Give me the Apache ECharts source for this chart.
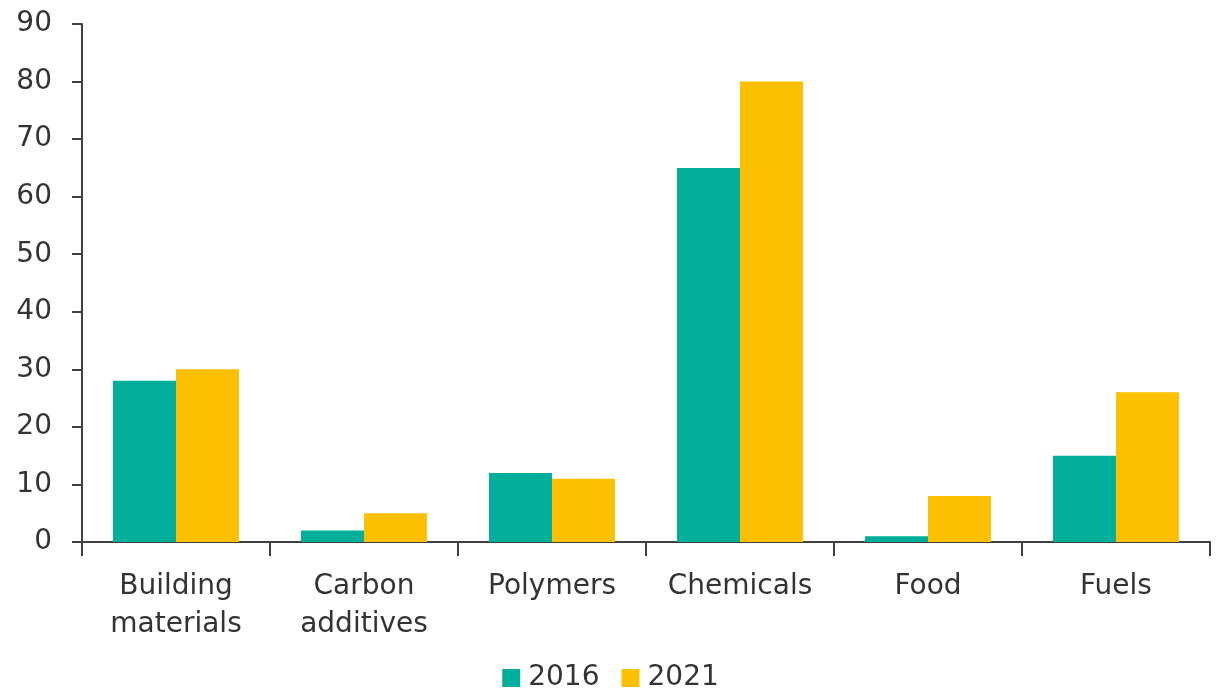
<!DOCTYPE html>
<html>
<head>
<meta charset="utf-8">
<script src="https://cdn.jsdelivr.net/npm/echarts@6/dist/echarts.min.js"></script>
<style>
  html, body { margin: 0; padding: 0; background: #fff; }
  #chart { width: 1221px; height: 698px; }
</style>
</head>
<body>
<div id="chart"></div>
<script>
var categories = ['Building\nmaterials', 'Carbon\nadditives', 'Polymers', 'Chemicals', 'Food', 'Fuels'];
var values2016 = [28, 2, 12, 65, 1, 15];
var values2021 = [30, 5, 11, 80, 8, 26];
var yTicks = [0, 10, 20, 30, 40, 50, 60, 70, 80, 90];

var font = 'DejaVu Sans, Verdana, sans-serif';
var textColor = '#333333';
var axisColor = '#404040';

var myChart = echarts.init(document.getElementById('chart'));
var option = {
  animation: false,
  grid: { left: 82, right: 11, top: 24, bottom: 156, containLabel: false },
  legend: {
    top: 664,
    left: 'center',
    padding: 0,
    itemWidth: 18,
    itemHeight: 18,
    itemGap: 22,
    icon: 'rect',
    textStyle: { fontFamily: font, fontSize: 28, color: textColor, padding: [0, 0, 0, 3] },
    data: ['2016', '2021']
  },
  xAxis: {
    type: 'category',
    data: categories,
    axisLine: { show: true, lineStyle: { color: axisColor, width: 2 } },
    axisTick: { show: true, length: 14, lineStyle: { color: axisColor, width: 2 } },
    axisLabel: { fontFamily: font, fontSize: 28, color: textColor, margin: 26, lineHeight: 38 }
  },
  yAxis: {
    type: 'value',
    min: yTicks[0],
    max: yTicks[yTicks.length - 1],
    interval: 10,
    splitLine: { show: false },
    axisLine: { show: true, lineStyle: { color: axisColor, width: 2 } },
    axisTick: { show: true, length: 10, lineStyle: { color: axisColor, width: 2 } },
    axisLabel: { fontFamily: font, fontSize: 28, color: textColor, margin: 30 }
  },
  series: [
    {
      name: '2016',
      type: 'bar',
      data: values2016,
      barGap: '0%',
      barCategoryGap: '33%',
      itemStyle: { color: '#00AE9A' }
    },
    {
      name: '2021',
      type: 'bar',
      data: values2021,
      itemStyle: { color: '#FCC000' }
    }
  ]
};
myChart.setOption(option);
window.onresize = myChart.resize;
</script>
</body>
</html>
